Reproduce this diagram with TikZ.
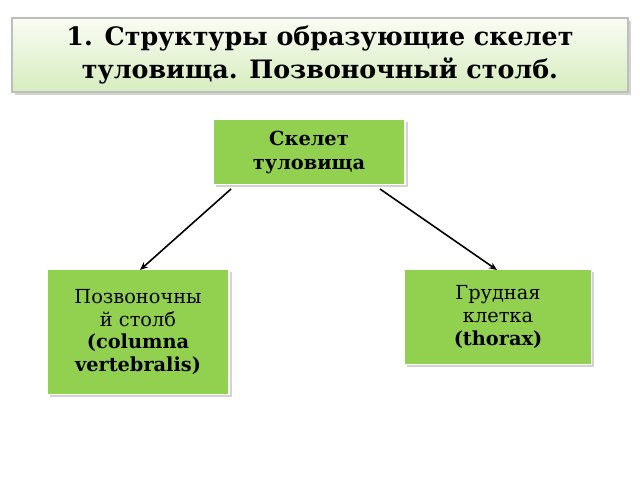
\documentclass[tikz,border=0pt]{standalone}
\usepackage{fontspec}
\setmainfont{DejaVu Serif}
\usetikzlibrary{shadows,arrows.meta}
\begin{document}
\begin{tikzpicture}[x=0.75pt,y=-0.75pt,
  box/.style={fill={rgb,255:red,146;green,208;blue,80},draw=white,line width=1pt,
    drop shadow={shadow xshift=2pt,shadow yshift=-2pt,opacity=0.35},align=center,
    inner sep=0pt,font=\fontsize{14.5}{17}\selectfont},
  conn/.style={-{Stealth[length=6pt,width=5pt]},line width=1.2pt}]
\useasboundingbox (0,0) rectangle (640,480);
\node[draw={rgb,255:red,190;green,190;blue,190},line width=1pt,
  top color={rgb,255:red,250;green,252;blue,244},bottom color={rgb,255:red,214;green,236;blue,190},
  drop shadow={shadow xshift=2pt,shadow yshift=-2pt,opacity=0.35},
  minimum width=616*0.75pt,minimum height=74*0.75pt,align=center,inner sep=0pt,
  font=\bfseries\fontsize{19}{25}\selectfont] (t) at (320,55)
  {1. Структуры образующие скелет\\туловища. Позвоночный столб.};
\node[box,minimum width=192*0.75pt,minimum height=65*0.75pt,font=\bfseries\fontsize{14.5}{18}\selectfont] (s) at (309,152) {Скелет\\туловища};
\node[box,minimum width=182*0.75pt,minimum height=125*0.75pt] (l) at (138,332)
  {Позвоночны\\й столб\\\textbf{(columna}\\\textbf{vertebralis)}};
\node[box,minimum width=187*0.75pt,minimum height=95*0.75pt] (r) at (498,317)
  {Грудная\\клетка\\\textbf{(thorax)}};
\coordinate (a1) at (231,189); \coordinate (a2) at (140,270);
\coordinate (b1) at (380,189); \coordinate (b2) at (497,270);
\draw[conn] (a1) -- (a2);
\draw[conn] (b1) -- (b2);
\end{tikzpicture}
\end{document}
